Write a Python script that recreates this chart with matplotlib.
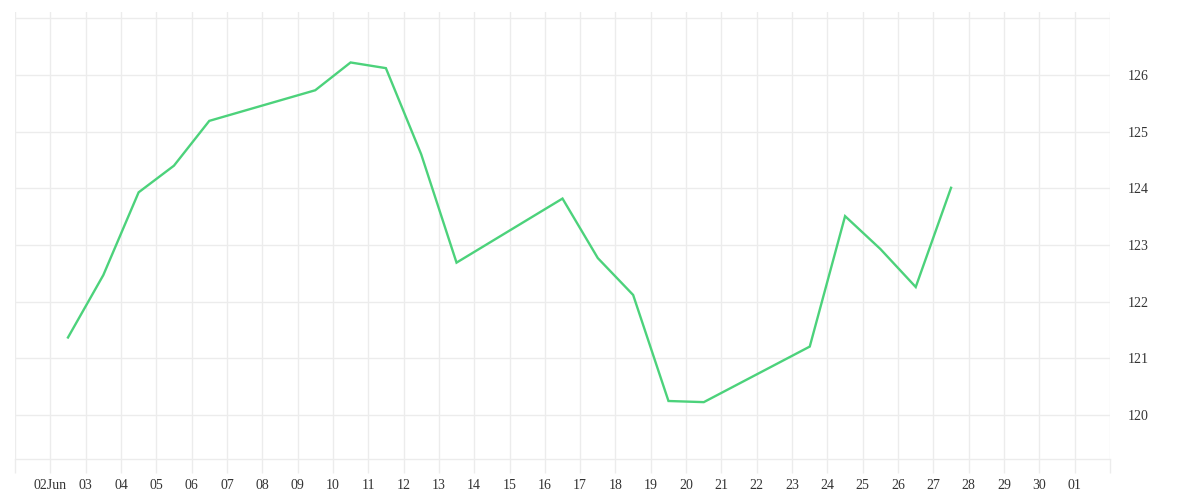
import datetime
import matplotlib
matplotlib.use("Agg")
import matplotlib.pyplot as plt
import matplotlib.dates as mdates

# daily values, plotted at midday
dates = ["2025-06-02", "2025-06-03", "2025-06-04", "2025-06-05", "2025-06-06",
         "2025-06-09", "2025-06-10", "2025-06-11", "2025-06-12", "2025-06-13",
         "2025-06-16", "2025-06-17", "2025-06-18", "2025-06-19", "2025-06-20",
         "2025-06-23", "2025-06-24", "2025-06-25", "2025-06-26", "2025-06-27"]
values = [121.37, 122.47, 123.93, 124.40, 125.19,
          125.73, 126.22, 126.12, 124.60, 122.69,
          123.82, 122.77, 122.12, 120.25, 120.23,
          121.21, 123.51, 122.93, 122.26, 124.01]
y_ticks = [120, 121, 122, 123, 124, 125, 126, 127]
y_labels = ["120", "121", "122", "123", "124", "125", "126", ""]

line_color = "#4cd27b"
grid_color = "#ececec"
text_color = "#333333"

plt.rcParams["font.family"] = ["Liberation Serif", "DejaVu Serif"]

x = [datetime.datetime.strptime(d, "%Y-%m-%d") + datetime.timedelta(hours=12) for d in dates]

fig = plt.figure(figsize=(12, 5), dpi=100)
ax = fig.add_axes([0.0125, 0.083, 0.9125, 0.893])

ax.plot(x, values, color=line_color, linewidth=1.7, solid_joinstyle="miter")

start = datetime.datetime(2025, 6, 1)
day_ticks = [start + datetime.timedelta(days=i) for i in range(32)]
day_labels = []
for i, d in enumerate(day_ticks):
    if i == 0 or i == len(day_ticks) - 1:
        day_labels.append("")
    elif d.day == 2 and d.month == 6:
        day_labels.append(d.strftime("%d") + "Jun")
    else:
        day_labels.append(d.strftime("%d"))

ax.set_xlim(day_ticks[0], day_ticks[-1])
ax.set_ylim(119.236, 127.11)
ax.set_xticks(mdates.date2num(day_ticks))
ax.set_xticklabels(day_labels)
ax.set_yticks(y_ticks)
ax.set_yticklabels(y_labels)

ax.yaxis.tick_right()
ax.grid(True, color=grid_color, linewidth=1.0)
ax.set_axisbelow(True)
for s in ["top", "left", "right"]:
    ax.spines[s].set_visible(False)
ax.spines["bottom"].set_color(grid_color)
ax.spines["bottom"].set_linewidth(1.0)

ax.tick_params(axis="x", length=10, width=1.0, color=grid_color, pad=5,
               labelsize=10, labelcolor=text_color)
ax.tick_params(axis="y", length=0, pad=13, labelsize=10, labelcolor=text_color)

fig.savefig("out.png", dpi=100)
